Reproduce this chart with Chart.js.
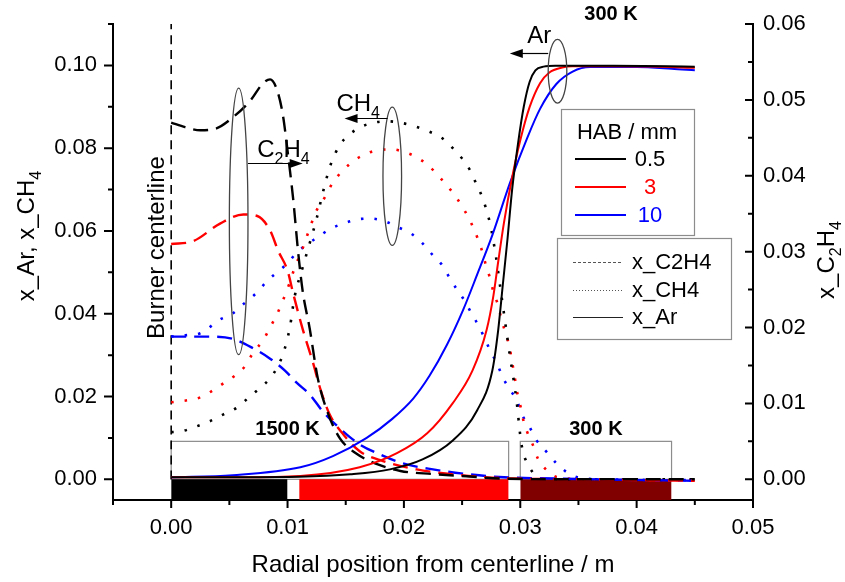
<!DOCTYPE html>
<html>
<head>
<meta charset="utf-8">
<script src="https://cdn.jsdelivr.net/npm/chart.js@4.4.1/dist/chart.umd.min.js"></script>
<style>
  body { margin: 0; background: #fff; }
  canvas { display: block; }
</style>
</head>
<body>
<canvas id="perfil" width="845" height="582"></canvas>
<script>
// perfis radiais: Ar e CH4 no eixo esquerdo, C2H4 no eixo direito
// cada serie e uma lista de [posicao radial / m, fracao molar]

// x_Ar (linha cheia)
const arHab05 = [[0,0.0005],[0.006,0.0005],[0.011,0.0006],[0.0154,0.0012],[0.0188,0.0024],[0.0216,0.0048],[0.0242,0.0094],[0.0263,0.0167],[0.0276,0.0263],[0.0281,0.036],[0.0285,0.047],[0.0289,0.058],[0.0293,0.070],[0.0298,0.081],[0.0303,0.090],[0.0308,0.096],[0.0313,0.0988],[0.032,0.0997],[0.033,0.0999],[0.038,0.0999],[0.045,0.0997]];
const arHab3 = [[0,0.0005],[0.006,0.0005],[0.0111,0.0008],[0.0162,0.0029],[0.0194,0.0063],[0.022,0.0111],[0.0242,0.0184],[0.0259,0.0263],[0.0271,0.036],[0.0277,0.0445],[0.0281,0.0525],[0.0286,0.062],[0.0293,0.0729],[0.03,0.0819],[0.0308,0.0899],[0.0317,0.0957],[0.0325,0.0983],[0.0336,0.0995],[0.0345,0.0998],[0.038,0.0998],[0.042,0.0997],[0.045,0.0994]];
const arHab10 = [[0,0.0005],[0.0053,0.001],[0.0111,0.0029],[0.0139,0.0056],[0.0168,0.01],[0.019,0.0146],[0.0208,0.0195],[0.0222,0.025],[0.0237,0.0325],[0.0251,0.041],[0.0263,0.0495],[0.0276,0.059],[0.0291,0.0715],[0.0306,0.0825],[0.0317,0.0895],[0.0331,0.0955],[0.0345,0.0985],[0.036,0.0996],[0.04,0.0996],[0.043,0.0992],[0.045,0.0988]];

// x_C2H4 (tracejada, eixo direito)
const c2h4Hab05 = [[0,0.047],[0.0012,0.0464],[0.0025,0.046],[0.0038,0.0462],[0.0053,0.0477],[0.0068,0.0499],[0.0079,0.0522],[0.0085,0.0527],[0.0091,0.0513],[0.0096,0.048],[0.01,0.0433],[0.0105,0.0367],[0.0109,0.0301],[0.0113,0.0248],[0.0119,0.0199],[0.0126,0.0133],[0.0135,0.0086],[0.0145,0.0054],[0.016,0.0033],[0.0177,0.002],[0.0197,0.0011],[0.0225,0.0007],[0.0254,0.0004],[0.0282,0.0001],[0.035,0],[0.045,0]];
const c2h4Hab3 = [[0,0.031],[0.0019,0.0314],[0.0042,0.0337],[0.0062,0.0349],[0.0074,0.0347],[0.0085,0.0328],[0.0092,0.0301],[0.01,0.0275],[0.0105,0.0244],[0.0113,0.0198],[0.0122,0.0153],[0.0128,0.012],[0.0136,0.0086],[0.0148,0.0059],[0.0162,0.0037],[0.0182,0.0024],[0.0211,0.0013],[0.0239,0.0007],[0.0268,0.0003],[0.0294,0.0001],[0.035,0],[0.045,-0.0002]];
const c2h4Hab10 = [[0,0.0188],[0.0019,0.0188],[0.0036,0.0188],[0.0053,0.0185],[0.007,0.0173],[0.0085,0.0159],[0.0098,0.0143],[0.0108,0.0127],[0.0119,0.0112],[0.013,0.009],[0.0145,0.0067],[0.0162,0.0046],[0.0179,0.0033],[0.0199,0.0021],[0.0225,0.0013],[0.0254,0.0007],[0.0282,0.0003],[0.033,0.0001],[0.045,-0.0002]];

// x_CH4 (pontilhada)
const ch4Hab05 = [[0,0.0114],[0.0009,0.0116],[0.0022,0.0128],[0.0033,0.014],[0.0045,0.0157],[0.0057,0.0174],[0.0066,0.0196],[0.0076,0.022],[0.0085,0.0244],[0.0092,0.0275],[0.0097,0.031],[0.0102,0.0367],[0.0106,0.044],[0.0113,0.0512],[0.0119,0.057],[0.0125,0.063],[0.0131,0.07],[0.0137,0.076],[0.0145,0.0808],[0.0152,0.083],[0.0162,0.085],[0.0173,0.0861],[0.0185,0.0865],[0.0198,0.0861],[0.0209,0.0853],[0.0221,0.0841],[0.0233,0.0824],[0.0242,0.08],[0.025,0.0775],[0.0257,0.0746],[0.0262,0.0715],[0.0267,0.0684],[0.0274,0.0618],[0.0279,0.054],[0.0283,0.046],[0.0287,0.038],[0.0291,0.03],[0.0294,0.0246],[0.0297,0.0185],[0.03,0.0106],[0.0302,0.007],[0.0306,0.0039],[0.0314,0.0007],[0.032,0.0002],[0.035,0],[0.045,0]];
const ch4Hab3 = [[0,0.0186],[0.0014,0.0191],[0.0025,0.0198],[0.0036,0.0215],[0.0045,0.0232],[0.0055,0.0251],[0.0064,0.0275],[0.007,0.0304],[0.0079,0.0336],[0.0085,0.0367],[0.0091,0.0399],[0.0096,0.0432],[0.0102,0.0476],[0.0106,0.051],[0.0113,0.0558],[0.0119,0.0606],[0.0125,0.065],[0.0132,0.0681],[0.0139,0.0717],[0.0154,0.0763],[0.0165,0.0783],[0.0177,0.0795],[0.019,0.0797],[0.0201,0.079],[0.0211,0.0778],[0.0221,0.0758],[0.0231,0.0729],[0.0239,0.0703],[0.0245,0.0681],[0.0252,0.065],[0.0258,0.0618],[0.0263,0.0585],[0.0267,0.0553],[0.027,0.0522],[0.0274,0.0486],[0.0277,0.0452],[0.0281,0.042],[0.0284,0.0384],[0.0288,0.0348],[0.0291,0.0316],[0.0293,0.0283],[0.0295,0.0251],[0.0297,0.0215],[0.03,0.0179],[0.0302,0.015],[0.0306,0.0114],[0.0311,0.0082],[0.0315,0.0051],[0.0321,0.0027],[0.0332,0.0005],[0.036,0],[0.045,-0.0002]];
const ch4Hab10 = [[0,0.0345],[0.0012,0.0348],[0.0025,0.0353],[0.0042,0.0386],[0.0053,0.0401],[0.0064,0.0428],[0.0074,0.0452],[0.0082,0.0478],[0.0091,0.05],[0.01,0.0522],[0.0108,0.0548],[0.0117,0.0568],[0.0126,0.0585],[0.0136,0.0604],[0.0148,0.0618],[0.016,0.0628],[0.0171,0.063],[0.0184,0.0623],[0.0195,0.0609],[0.0207,0.0592],[0.0216,0.057],[0.0225,0.0541],[0.0233,0.0517],[0.0239,0.0488],[0.0245,0.0461],[0.0252,0.0432],[0.0258,0.0401],[0.0264,0.0372],[0.0269,0.0343],[0.0274,0.0312],[0.028,0.028],[0.0285,0.0246],[0.0291,0.0217],[0.0297,0.0191],[0.0301,0.0159],[0.0308,0.0126],[0.0314,0.0094],[0.0323,0.0065],[0.0331,0.0039],[0.034,0.0017],[0.0349,0.0005],[0.037,0],[0.045,-0.0002]];

// faixas do queimador (inicio, fim) e temperaturas
const zonaInicio = [0, 0.011, 0.030];
const zonaFim = [0.010, 0.029, 0.043];
const caixaTemp = [[0, 0.029], [0.030, 0.043]];
const rotuloTemp = ['1500 K', '300 K', '300 K'];
const posRotuloTemp = [[0.010, 0.0066], [0.0365, 0.0066], [0.0378, 0.0613]]; // x, y2

// legenda
const habMm = ['0.5', '3', '10'];
const especies = ['x_C2H4', 'x_CH4', 'x_Ar'];

// marcas dos eixos
const xMaior = [0, 0.01, 0.02, 0.03, 0.04, 0.05];
const xMenor = [-0.005, 0.005, 0.015, 0.025, 0.035, 0.045];
const yMaior = [0, 0.02, 0.04, 0.06, 0.08, 0.10];
const yMenor = [0.01, 0.03, 0.05, 0.07, 0.09, 0.11];
const y2Maior = [0, 0.01, 0.02, 0.03, 0.04, 0.05, 0.06];
const y2Menor = [0.005, 0.015, 0.025, 0.035, 0.045, 0.055];

const FONTE = '"Liberation Sans", Arial, sans-serif';
const cores = ['#000000', '#ff0000', '#0000ff'];
const coresZona = ['#000000', '#ff0000', '#800000'];

function pts(lista) {
  return lista.map(p => ({ x: p[0], y: p[1] }));
}

// texto com subscritos: partes = [[texto, sub?], ...]
function larguraRica(ctx, partes, tam) {
  let w = 0;
  partes.forEach(p => {
    ctx.font = (p[1] ? Math.round(tam * 0.65) : tam) + 'px ' + FONTE;
    w += ctx.measureText(p[0]).width;
  });
  return w;
}
function textoRico(ctx, partes, x, y, tam) {
  let cx = x;
  ctx.textAlign = 'left';
  ctx.textBaseline = 'alphabetic';
  partes.forEach(p => {
    ctx.font = (p[1] ? Math.round(tam * 0.65) : tam) + 'px ' + FONTE;
    ctx.fillText(p[0], cx, y + (p[1] ? tam * 0.3 : 0));
    cx += ctx.measureText(p[0]).width;
  });
}

// elipses com seta indicando o eixo de cada especie
const chamadas = [
  { partes: [['C'], ['2', true], ['H'], ['4', true]], texto: [0.0074, 0.0778], elipse: [0.0058, 0.0623, 0.0008, 0.0322], seta: [0.0066, 0.0113, 0.0763] },
  { partes: [['C'], ['H'], ['4', true]], texto: [0.0142, 0.0891], elipse: [0.019, 0.0732, 0.0008, 0.0167], seta: [0.0186, 0.0149, 0.0872] },
  { partes: [['Ar']], texto: [0.0306, 0.1053], elipse: [0.0332, 0.0986, 0.0008, 0.0077], seta: [0.0324, 0.0291, 0.1031] }
];

// sem folga extra dos rotulos: a area do grafico fica fixa
function semFolga(s) {
  s.paddingTop = 0;
  s.paddingBottom = 0;
  s.paddingLeft = 0;
  s.paddingRight = 0;
}

const decoracao = {
  id: 'decoracao',
  beforeDatasetsDraw(chart) {
    const ctx = chart.ctx, sx = chart.scales.x, sy2 = chart.scales.y2;
    ctx.save();
    ctx.strokeStyle = '#8c8c8c';
    ctx.lineWidth = 1.2;
    caixaTemp.forEach(c => {
      const x1 = sx.getPixelForValue(c[0]), x2 = sx.getPixelForValue(c[1]);
      const yt = sy2.getPixelForValue(0.005), yb = sy2.getPixelForValue(0);
      ctx.strokeRect(x1, yt, x2 - x1, yb - yt);
    });
    ctx.restore();
  },
  afterDatasetsDraw(chart) {
    const ctx = chart.ctx, sx = chart.scales.x, sy = chart.scales.y, sy2 = chart.scales.y2;
    ctx.save();
    ctx.fillStyle = '#000';

    // rotulos de temperatura
    ctx.font = 'bold 20px ' + FONTE;
    ctx.textAlign = 'center';
    ctx.textBaseline = 'middle';
    rotuloTemp.forEach((t, i) => {
      ctx.fillText(t, sx.getPixelForValue(posRotuloTemp[i][0]), sy2.getPixelForValue(posRotuloTemp[i][1]));
    });

    // Burner centerline
    ctx.save();
    ctx.translate(164, sy.getPixelForValue(0.056));
    ctx.rotate(-Math.PI / 2);
    ctx.font = '24px ' + FONTE;
    ctx.textAlign = 'center';
    ctx.textBaseline = 'alphabetic';
    ctx.fillText('Burner centerline', 0, 0);
    ctx.restore();

    // elipses, setas e nomes
    chamadas.forEach(c => {
      const cx = sx.getPixelForValue(c.elipse[0]), cy = sy.getPixelForValue(c.elipse[1]);
      const rx = Math.abs(sx.getPixelForValue(c.elipse[0] + c.elipse[2]) - cx);
      const ry = Math.abs(sy.getPixelForValue(c.elipse[1] + c.elipse[3]) - cy);
      ctx.strokeStyle = '#444';
      ctx.lineWidth = 1.3;
      ctx.beginPath();
      ctx.ellipse(cx, cy, rx, ry, 0, 0, Math.PI * 2);
      ctx.stroke();

      const x1 = sx.getPixelForValue(c.seta[0]), x2 = sx.getPixelForValue(c.seta[1]);
      const ys = Math.round(sy.getPixelForValue(c.seta[2])) + 0.5;
      const dir = x2 > x1 ? 1 : -1;
      ctx.strokeStyle = '#000';
      ctx.lineWidth = 1.2;
      ctx.beginPath();
      ctx.moveTo(x1, ys);
      ctx.lineTo(x2 - dir * 10, ys);
      ctx.stroke();
      ctx.beginPath();
      ctx.moveTo(x2, ys);
      ctx.lineTo(x2 - dir * 13, ys - 4.5);
      ctx.lineTo(x2 - dir * 13, ys + 4.5);
      ctx.closePath();
      ctx.fill();

      textoRico(ctx, c.partes, sx.getPixelForValue(c.texto[0]), sy.getPixelForValue(c.texto[1]), 24);
    });

    // legenda HAB
    ctx.strokeStyle = '#8c8c8c';
    ctx.lineWidth = 1.2;
    ctx.strokeRect(561.5, 109.5, 133, 126);
    ctx.font = '22px ' + FONTE;
    ctx.textAlign = 'center';
    ctx.textBaseline = 'middle';
    ctx.fillStyle = '#000';
    ctx.fillText('HAB / mm', 627, 133);
    habMm.forEach((h, i) => {
      const y = 159 + i * 28;
      ctx.strokeStyle = cores[i];
      ctx.lineWidth = 2;
      ctx.beginPath();
      ctx.moveTo(575, y);
      ctx.lineTo(626, y);
      ctx.stroke();
      ctx.fillStyle = cores[i];
      ctx.fillText(h, 650, y + 1);
    });

    // legenda estilos de linha
    ctx.strokeStyle = '#8c8c8c';
    ctx.lineWidth = 1.2;
    ctx.strokeRect(557.5, 238.5, 174, 101);
    const tracos = [[3, 2], [1, 2], []];
    especies.forEach((e, i) => {
      const y = 262 + i * 27.5;
      ctx.strokeStyle = i === 2 ? '#222' : '#555';
      ctx.lineWidth = 1;
      ctx.setLineDash(tracos[i]);
      ctx.beginPath();
      ctx.moveTo(573, Math.round(y) + 0.5);
      ctx.lineTo(623, Math.round(y) + 0.5);
      ctx.stroke();
      ctx.setLineDash([]);
      ctx.fillStyle = '#000';
      ctx.textAlign = 'left';
      ctx.fillText(e, 632, y + 1);
    });
    ctx.restore();
  },
  afterDraw(chart) {
    const ctx = chart.ctx, a = chart.chartArea;
    const sx = chart.scales.x, sy = chart.scales.y, sy2 = chart.scales.y2;
    ctx.save();
    ctx.strokeStyle = '#000';
    ctx.lineWidth = 2;
    ctx.beginPath();
    const marca = (lista, tam, f) => lista.forEach(v => f(v, tam));
    const tx = (v, t) => { const p = sx.getPixelForValue(v); ctx.moveTo(p, a.bottom); ctx.lineTo(p, a.bottom + t); };
    const ty = (v, t) => { const p = sy.getPixelForValue(v); ctx.moveTo(a.left, p); ctx.lineTo(a.left - t, p); };
    const ty2 = (v, t) => { const p = sy2.getPixelForValue(v); ctx.moveTo(a.right, p); ctx.lineTo(a.right - t, p); };
    marca(xMaior, 8, tx); marca(xMenor, 5, tx);
    marca(yMaior, 9, ty); marca(yMenor, 5, ty);
    marca(y2Maior, 8, ty2); marca(y2Menor, 5, ty2);
    ctx.stroke();

    // titulos dos eixos y com subscrito
    ctx.fillStyle = '#000';
    const tituloY = [['x_Ar, x_CH'], ['4', true]];
    const tituloY2 = [['x_C'], ['2', true], ['H'], ['4', true]];
    [[tituloY, 34, 236], [tituloY2, 834, 260]].forEach(t => {
      const w = larguraRica(ctx, t[0], 24);
      ctx.save();
      ctx.translate(t[1], t[2]);
      ctx.rotate(-Math.PI / 2);
      textoRico(ctx, t[0], -w / 2, 0, 24);
      ctx.restore();
    });
    ctx.restore();
  }
};

Chart.defaults.font.family = FONTE;
Chart.defaults.color = '#000';

const linha = (dados, cor, eixo, traco, larg) => ({
  data: pts(dados),
  borderColor: cor,
  borderWidth: larg,
  borderDash: traco,
  yAxisID: eixo,
  pointRadius: 0,
  cubicInterpolationMode: 'monotone',
  fill: false
});

const conjuntos = [
  linha(arHab05, cores[0], 'y', [], 2),
  linha(arHab3, cores[1], 'y', [], 2),
  linha(arHab10, cores[2], 'y', [], 2),
  linha(c2h4Hab05, cores[0], 'y2', [15, 8], 2.4),
  linha(c2h4Hab3, cores[1], 'y2', [15, 8], 2.4),
  linha(c2h4Hab10, cores[2], 'y2', [15, 8], 2.4),
  linha(ch4Hab05, cores[0], 'y', [2.5, 11], 2.6),
  linha(ch4Hab3, cores[1], 'y', [2.5, 11], 2.6),
  linha(ch4Hab10, cores[2], 'y', [2.5, 11], 2.6),
  // linha de centro do queimador
  linha([[0, 0], [0, 0.11]], '#000', 'y', [9, 6], 1.6)
];
// faixas coloridas abaixo de zero
zonaInicio.forEach((ini, i) => {
  conjuntos.push({
    data: pts([[ini, 0], [zonaFim[i], 0]]),
    borderColor: 'rgba(0,0,0,0)',
    backgroundColor: coresZona[i],
    yAxisID: 'y',
    pointRadius: 0,
    fill: 'start'
  });
});

new Chart(document.getElementById('perfil'), {
  type: 'line',
  data: { datasets: conjuntos },
  options: {
    responsive: false,
    animation: false,
    layout: { padding: { top: 24, left: 0, right: 0, bottom: 0 } },
    plugins: { legend: { display: false }, tooltip: { enabled: false } },
    scales: {
      x: {
        type: 'linear', min: -0.005, max: 0.05,
        afterBuildTicks: s => { s.ticks = xMaior.map(v => ({ value: v })); },
        afterFit: s => { s.height = 82; semFolga(s); },
        grid: { display: false, drawTicks: false },
        border: { color: '#000', width: 2 },
        ticks: { padding: 15, font: { size: 22 }, maxRotation: 0, autoSkip: false, callback: v => v.toFixed(2) },
        title: { display: true, text: 'Radial position from centerline / m', font: { size: 24 }, padding: { top: 0, bottom: 2 } }
      },
      y: {
        position: 'left', min: -0.005, max: 0.11,
        afterBuildTicks: s => { s.ticks = yMaior.map(v => ({ value: v })); },
        afterFit: s => { s.width = 113; semFolga(s); },
        grid: { display: false, drawTicks: false },
        border: { color: '#000', width: 2 },
        ticks: { padding: 16, font: { size: 22 }, autoSkip: false, callback: v => v.toFixed(2) }
      },
      y2: {
        position: 'right', min: -0.06 * 0.005 / 0.11, max: 0.06,
        afterBuildTicks: s => { s.ticks = y2Maior.map(v => ({ value: v })); },
        afterFit: s => { s.width = 92; semFolga(s); },
        grid: { display: false, drawTicks: false },
        border: { color: '#000', width: 2 },
        ticks: { padding: 10, font: { size: 22 }, autoSkip: false, callback: v => v.toFixed(2) }
      }
    }
  },
  plugins: [decoracao]
});
</script>
</body>
</html>
